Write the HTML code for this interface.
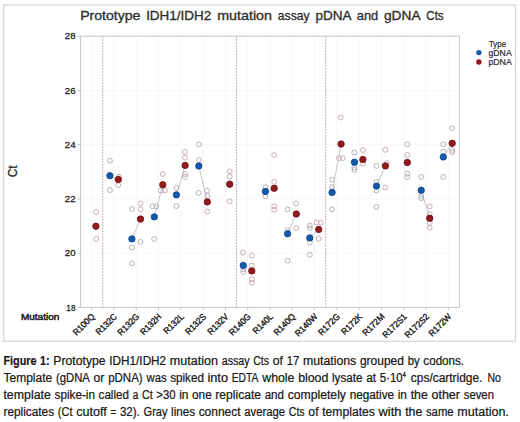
<!DOCTYPE html>
<html><head><meta charset="utf-8"><style>html,body{margin:0;padding:0;background:#fff;}body{width:520px;height:422px;overflow:hidden;}svg{display:block;font-family:"Liberation Sans",sans-serif;}</style></head><body>
<svg width="520" height="422" viewBox="0 0 520 422">
<rect x="0" y="0" width="520" height="422" fill="#fff"/>
<rect x="3.7" y="4.9" width="511.7" height="336.4" fill="none" stroke="#d4d4d4" stroke-width="1.2"/>
<path d="M80.5 90.44H459.5 M80.5 144.68H459.5 M80.5 198.92H459.5 M80.5 253.16H459.5 M91.65 36.2V307.4 M113.94 36.2V307.4 M136.24 36.2V307.4 M158.53 36.2V307.4 M180.82 36.2V307.4 M203.12 36.2V307.4 M225.41 36.2V307.4 M247.71 36.2V307.4 M270.00 36.2V307.4 M292.29 36.2V307.4 M314.59 36.2V307.4 M336.88 36.2V307.4 M359.18 36.2V307.4 M381.47 36.2V307.4 M403.76 36.2V307.4 M426.06 36.2V307.4 M448.35 36.2V307.4" stroke="#f7f7f7" stroke-width="1" fill="none"/>
<line x1="102.79" y1="36.2" x2="102.79" y2="307.4" stroke="#c4a4ae" stroke-width="1" stroke-dasharray="1.8 1.1"/>
<line x1="236.56" y1="36.2" x2="236.56" y2="307.4" stroke="#c4a4ae" stroke-width="1" stroke-dasharray="1.8 1.1"/>
<line x1="325.74" y1="36.2" x2="325.74" y2="307.4" stroke="#c4a4ae" stroke-width="1" stroke-dasharray="1.8 1.1"/>
<rect x="80.5" y="36.2" width="379.0" height="271.2" fill="none" stroke="#c8c8c8" stroke-width="1"/>
<path d="M77.5 36.20H80.5 M77.5 90.44H80.5 M77.5 144.68H80.5 M77.5 198.92H80.5 M77.5 253.16H80.5 M77.5 307.40H80.5 M91.65 307.4V310.4 M113.94 307.4V310.4 M136.24 307.4V310.4 M158.53 307.4V310.4 M180.82 307.4V310.4 M203.12 307.4V310.4 M225.41 307.4V310.4 M247.71 307.4V310.4 M270.00 307.4V310.4 M292.29 307.4V310.4 M314.59 307.4V310.4 M336.88 307.4V310.4 M359.18 307.4V310.4 M381.47 307.4V310.4 M403.76 307.4V310.4 M426.06 307.4V310.4 M448.35 307.4V310.4" stroke="#c8c8c8" stroke-width="1" fill="none"/>
<text x="75.5" y="39.30" font-size="9.6" fill="#1e1e1e" stroke="#1e1e1e" stroke-width="0.28" text-anchor="end">28</text>
<text x="75.5" y="93.54" font-size="9.6" fill="#1e1e1e" stroke="#1e1e1e" stroke-width="0.28" text-anchor="end">26</text>
<text x="75.5" y="147.78" font-size="9.6" fill="#1e1e1e" stroke="#1e1e1e" stroke-width="0.28" text-anchor="end">24</text>
<text x="75.5" y="202.02" font-size="9.6" fill="#1e1e1e" stroke="#1e1e1e" stroke-width="0.28" text-anchor="end">22</text>
<text x="75.5" y="256.26" font-size="9.6" fill="#1e1e1e" stroke="#1e1e1e" stroke-width="0.28" text-anchor="end">20</text>
<text x="75.5" y="310.50" font-size="9.6" fill="#1e1e1e" stroke="#1e1e1e" stroke-width="0.28" text-anchor="end" textLength="9.2" lengthAdjust="spacingAndGlyphs">18</text>
<text transform="translate(17.0,171.4) rotate(-90)" font-size="12.4" fill="#222" stroke="#222" stroke-width="0.3" text-anchor="middle" textLength="11.9" lengthAdjust="spacingAndGlyphs">Ct</text>
<text transform="translate(95.25,317.20) rotate(-45)" font-size="8.8" fill="#1a1a1a" stroke="#1a1a1a" stroke-width="0.38" text-anchor="end" textLength="26.49" lengthAdjust="spacingAndGlyphs">R100Q</text>
<text transform="translate(117.54,317.20) rotate(-45)" font-size="8.8" fill="#1a1a1a" stroke="#1a1a1a" stroke-width="0.38" text-anchor="end" textLength="26.02" lengthAdjust="spacingAndGlyphs">R132C</text>
<text transform="translate(139.84,317.20) rotate(-45)" font-size="8.8" fill="#1a1a1a" stroke="#1a1a1a" stroke-width="0.38" text-anchor="end" textLength="26.49" lengthAdjust="spacingAndGlyphs">R132G</text>
<text transform="translate(162.13,317.20) rotate(-45)" font-size="8.8" fill="#1a1a1a" stroke="#1a1a1a" stroke-width="0.38" text-anchor="end" textLength="26.02" lengthAdjust="spacingAndGlyphs">R132H</text>
<text transform="translate(184.42,317.20) rotate(-45)" font-size="8.8" fill="#1a1a1a" stroke="#1a1a1a" stroke-width="0.38" text-anchor="end" textLength="24.63" lengthAdjust="spacingAndGlyphs">R132L</text>
<text transform="translate(206.72,317.20) rotate(-45)" font-size="8.8" fill="#1a1a1a" stroke="#1a1a1a" stroke-width="0.38" text-anchor="end" textLength="25.56" lengthAdjust="spacingAndGlyphs">R132S</text>
<text transform="translate(229.01,317.20) rotate(-45)" font-size="8.8" fill="#1a1a1a" stroke="#1a1a1a" stroke-width="0.38" text-anchor="end" textLength="25.56" lengthAdjust="spacingAndGlyphs">R132V</text>
<text transform="translate(251.31,317.20) rotate(-45)" font-size="8.8" fill="#1a1a1a" stroke="#1a1a1a" stroke-width="0.38" text-anchor="end" textLength="26.49" lengthAdjust="spacingAndGlyphs">R140G</text>
<text transform="translate(273.60,317.20) rotate(-45)" font-size="8.8" fill="#1a1a1a" stroke="#1a1a1a" stroke-width="0.38" text-anchor="end" textLength="24.63" lengthAdjust="spacingAndGlyphs">R140L</text>
<text transform="translate(295.89,317.20) rotate(-45)" font-size="8.8" fill="#1a1a1a" stroke="#1a1a1a" stroke-width="0.38" text-anchor="end" textLength="26.49" lengthAdjust="spacingAndGlyphs">R140Q</text>
<text transform="translate(318.19,317.20) rotate(-45)" font-size="8.8" fill="#1a1a1a" stroke="#1a1a1a" stroke-width="0.38" text-anchor="end" textLength="27.88" lengthAdjust="spacingAndGlyphs">R140W</text>
<text transform="translate(340.48,317.20) rotate(-45)" font-size="8.8" fill="#1a1a1a" stroke="#1a1a1a" stroke-width="0.38" text-anchor="end" textLength="26.49" lengthAdjust="spacingAndGlyphs">R172G</text>
<text transform="translate(362.78,317.20) rotate(-45)" font-size="8.8" fill="#1a1a1a" stroke="#1a1a1a" stroke-width="0.38" text-anchor="end" textLength="25.56" lengthAdjust="spacingAndGlyphs">R172K</text>
<text transform="translate(385.07,317.20) rotate(-45)" font-size="8.8" fill="#1a1a1a" stroke="#1a1a1a" stroke-width="0.38" text-anchor="end" textLength="26.95" lengthAdjust="spacingAndGlyphs">R172M</text>
<text transform="translate(407.36,317.20) rotate(-45)" font-size="8.8" fill="#1a1a1a" stroke="#1a1a1a" stroke-width="0.38" text-anchor="end" textLength="30.21" lengthAdjust="spacingAndGlyphs">R172S1</text>
<text transform="translate(429.66,317.20) rotate(-45)" font-size="8.8" fill="#1a1a1a" stroke="#1a1a1a" stroke-width="0.38" text-anchor="end" textLength="30.21" lengthAdjust="spacingAndGlyphs">R172S2</text>
<text transform="translate(451.95,317.20) rotate(-45)" font-size="8.8" fill="#1a1a1a" stroke="#1a1a1a" stroke-width="0.38" text-anchor="end" textLength="27.88" lengthAdjust="spacingAndGlyphs">R172W</text>
<text x="20.9" y="319.8" font-size="9.2" fill="#1e1e1e" stroke="#1e1e1e" stroke-width="0.5" textLength="38.4" lengthAdjust="spacingAndGlyphs">Mutation</text>
<text x="489" y="47" font-size="8.7" fill="#2a2a2a" stroke="#2a2a2a" stroke-width="0.2" textLength="17" lengthAdjust="spacingAndGlyphs">Type</text>
<circle cx="478.9" cy="52.6" r="2.7" fill="#1259ab"/>
<circle cx="478.9" cy="62" r="2.7" fill="#941a1f"/>
<text x="488.5" y="55.6" font-size="8.7" fill="#2a2a2a" stroke="#2a2a2a" stroke-width="0.2">gDNA</text>
<text x="488.5" y="65.2" font-size="8.7" fill="#2a2a2a" stroke="#2a2a2a" stroke-width="0.2">pDNA</text>
<line x1="109.9" y1="175.7" x2="118.3" y2="179.5" stroke="#c2c2c2" stroke-width="0.9"/>
<line x1="131.9" y1="238.9" x2="140.5" y2="219.0" stroke="#c2c2c2" stroke-width="0.9"/>
<line x1="154.3" y1="216.9" x2="162.8" y2="184.7" stroke="#c2c2c2" stroke-width="0.9"/>
<line x1="176.4" y1="194.9" x2="185.1" y2="165.4" stroke="#c2c2c2" stroke-width="0.9"/>
<line x1="198.8" y1="166.0" x2="207.3" y2="201.9" stroke="#c2c2c2" stroke-width="0.9"/>
<line x1="243.3" y1="265.4" x2="251.8" y2="270.9" stroke="#c2c2c2" stroke-width="0.9"/>
<line x1="265.4" y1="191.5" x2="274.2" y2="188.3" stroke="#c2c2c2" stroke-width="0.9"/>
<line x1="287.6" y1="233.8" x2="296.3" y2="214.0" stroke="#c2c2c2" stroke-width="0.9"/>
<line x1="309.8" y1="237.9" x2="318.7" y2="229.4" stroke="#c2c2c2" stroke-width="0.9"/>
<line x1="332.1" y1="192.4" x2="341.1" y2="144.0" stroke="#c2c2c2" stroke-width="0.9"/>
<line x1="354.4" y1="162.2" x2="362.9" y2="159.5" stroke="#c2c2c2" stroke-width="0.9"/>
<line x1="376.5" y1="186.1" x2="385.4" y2="165.9" stroke="#c2c2c2" stroke-width="0.9"/>
<line x1="421.2" y1="190.3" x2="429.7" y2="218.3" stroke="#c2c2c2" stroke-width="0.9"/>
<line x1="443.3" y1="157.0" x2="452.2" y2="143.3" stroke="#c2c2c2" stroke-width="0.9"/>
<g fill="none" stroke="#acacb0" stroke-width="0.9"><circle cx="109.9" cy="160.7" r="2.45"/><circle cx="109.9" cy="190.1" r="2.45"/><circle cx="131.9" cy="209.0" r="2.45"/><circle cx="131.9" cy="247.5" r="2.45"/><circle cx="131.9" cy="263.3" r="2.45"/><circle cx="152.5" cy="206.3" r="2.45"/><circle cx="156.3" cy="206.3" r="2.45"/><circle cx="154.2" cy="238.9" r="2.45"/><circle cx="176.4" cy="188.0" r="2.45"/><circle cx="176.4" cy="206.1" r="2.45"/><circle cx="198.9" cy="144.5" r="2.45"/><circle cx="198.9" cy="160.0" r="2.45"/><circle cx="198.7" cy="192.9" r="2.45"/><circle cx="243.0" cy="252.6" r="2.45"/><circle cx="243.3" cy="269.3" r="2.45"/><circle cx="243.3" cy="272.0" r="2.45"/><circle cx="265.4" cy="187.3" r="2.45"/><circle cx="265.4" cy="196.3" r="2.45"/><circle cx="287.6" cy="209.4" r="2.45"/><circle cx="287.6" cy="230.2" r="2.45"/><circle cx="287.6" cy="260.7" r="2.45"/><circle cx="309.8" cy="225.5" r="2.45"/><circle cx="309.8" cy="228.1" r="2.45"/><circle cx="309.8" cy="242.5" r="2.45"/><circle cx="309.8" cy="254.8" r="2.45"/><circle cx="332.1" cy="179.6" r="2.45"/><circle cx="332.1" cy="187.1" r="2.45"/><circle cx="332.1" cy="209.4" r="2.45"/><circle cx="354.4" cy="152.6" r="2.45"/><circle cx="354.4" cy="167.5" r="2.45"/><circle cx="354.4" cy="169.9" r="2.45"/><circle cx="376.5" cy="165.9" r="2.45"/><circle cx="376.5" cy="181.9" r="2.45"/><circle cx="376.5" cy="190.4" r="2.45"/><circle cx="376.5" cy="206.9" r="2.45"/><circle cx="421.2" cy="176.9" r="2.45"/><circle cx="421.2" cy="196.1" r="2.45"/><circle cx="421.2" cy="198.3" r="2.45"/><circle cx="443.3" cy="144.2" r="2.45"/><circle cx="443.3" cy="151.7" r="2.45"/><circle cx="443.2" cy="176.9" r="2.45"/></g>
<g fill="none" stroke="#bea6ae" stroke-width="0.9"><circle cx="96.1" cy="212.0" r="2.45"/><circle cx="96.2" cy="238.9" r="2.45"/><circle cx="119.0" cy="176.8" r="2.45"/><circle cx="118.2" cy="185.1" r="2.45"/><circle cx="140.5" cy="203.5" r="2.45"/><circle cx="140.5" cy="209.4" r="2.45"/><circle cx="140.5" cy="241.9" r="2.45"/><circle cx="162.8" cy="174.0" r="2.45"/><circle cx="160.7" cy="190.5" r="2.45"/><circle cx="164.9" cy="190.5" r="2.45"/><circle cx="185.0" cy="151.9" r="2.45"/><circle cx="185.0" cy="157.7" r="2.45"/><circle cx="185.0" cy="174.0" r="2.45"/><circle cx="185.0" cy="176.8" r="2.45"/><circle cx="207.1" cy="190.6" r="2.45"/><circle cx="207.3" cy="196.0" r="2.45"/><circle cx="207.3" cy="211.5" r="2.45"/><circle cx="229.7" cy="171.4" r="2.45"/><circle cx="229.7" cy="176.7" r="2.45"/><circle cx="229.6" cy="201.3" r="2.45"/><circle cx="251.8" cy="255.5" r="2.45"/><circle cx="251.8" cy="265.6" r="2.45"/><circle cx="251.8" cy="279.4" r="2.45"/><circle cx="251.8" cy="282.6" r="2.45"/><circle cx="274.2" cy="155.1" r="2.45"/><circle cx="274.2" cy="181.9" r="2.45"/><circle cx="274.2" cy="206.4" r="2.45"/><circle cx="274.2" cy="209.6" r="2.45"/><circle cx="296.3" cy="203.5" r="2.45"/><circle cx="296.3" cy="228.1" r="2.45"/><circle cx="316.5" cy="222.6" r="2.45"/><circle cx="320.8" cy="222.6" r="2.45"/><circle cx="318.7" cy="238.8" r="2.45"/><circle cx="340.7" cy="117.5" r="2.45"/><circle cx="339.1" cy="158.1" r="2.45"/><circle cx="342.8" cy="158.1" r="2.45"/><circle cx="362.9" cy="150.1" r="2.45"/><circle cx="362.9" cy="163.7" r="2.45"/><circle cx="385.3" cy="149.8" r="2.45"/><circle cx="386.7" cy="163.2" r="2.45"/><circle cx="385.1" cy="187.5" r="2.45"/><circle cx="407.3" cy="144.4" r="2.45"/><circle cx="407.3" cy="155.0" r="2.45"/><circle cx="407.3" cy="173.6" r="2.45"/><circle cx="407.3" cy="177.1" r="2.45"/><circle cx="429.7" cy="206.4" r="2.45"/><circle cx="429.7" cy="213.9" r="2.45"/><circle cx="429.7" cy="223.0" r="2.45"/><circle cx="429.7" cy="227.7" r="2.45"/><circle cx="452.2" cy="128.2" r="2.45"/><circle cx="452.2" cy="150.0" r="2.45"/><circle cx="452.2" cy="152.2" r="2.45"/></g>
<g fill="#1259ab" stroke="#0c4690" stroke-width="0.8"><circle cx="109.9" cy="175.7" r="3.2"/><circle cx="131.9" cy="238.9" r="3.2"/><circle cx="154.3" cy="216.9" r="3.2"/><circle cx="176.4" cy="194.9" r="3.2"/><circle cx="198.8" cy="166.0" r="3.2"/><circle cx="243.3" cy="265.4" r="3.2"/><circle cx="265.4" cy="191.5" r="3.2"/><circle cx="287.6" cy="233.8" r="3.2"/><circle cx="309.8" cy="237.9" r="3.2"/><circle cx="332.1" cy="192.4" r="3.2"/><circle cx="354.4" cy="162.2" r="3.2"/><circle cx="376.5" cy="186.1" r="3.2"/><circle cx="421.2" cy="190.3" r="3.2"/><circle cx="443.3" cy="157.0" r="3.2"/></g>
<g fill="#941a1f" stroke="#6e0c10" stroke-width="0.8"><circle cx="95.9" cy="226.2" r="3.2"/><circle cx="118.3" cy="179.5" r="3.2"/><circle cx="140.5" cy="219.0" r="3.2"/><circle cx="162.8" cy="184.7" r="3.2"/><circle cx="185.1" cy="165.4" r="3.2"/><circle cx="207.3" cy="201.9" r="3.2"/><circle cx="229.7" cy="184.2" r="3.2"/><circle cx="251.8" cy="270.9" r="3.2"/><circle cx="274.2" cy="188.3" r="3.2"/><circle cx="296.3" cy="214.0" r="3.2"/><circle cx="318.7" cy="229.4" r="3.2"/><circle cx="341.1" cy="144.0" r="3.2"/><circle cx="362.9" cy="159.5" r="3.2"/><circle cx="385.4" cy="165.9" r="3.2"/><circle cx="407.3" cy="162.5" r="3.2"/><circle cx="429.7" cy="218.3" r="3.2"/><circle cx="452.2" cy="143.3" r="3.2"/></g>
<g fill="#161616" stroke="#161616" stroke-width="0.22">
<text x="3.45" y="365.0" font-size="12.3" font-weight="bold" textLength="33.01" lengthAdjust="spacingAndGlyphs">Figure</text>
<text x="40.05" y="365.0" font-size="12.3" font-weight="bold" textLength="9.59" lengthAdjust="spacingAndGlyphs">1:</text>
<text x="53.35" y="365.0" font-size="12.3" textLength="52.30" lengthAdjust="spacingAndGlyphs">Prototype</text>
<text x="109.35" y="365.0" font-size="12.3" textLength="56.79" lengthAdjust="spacingAndGlyphs">IDH1/IDH2</text>
<text x="169.85" y="365.0" font-size="12.3" textLength="48.21" lengthAdjust="spacingAndGlyphs">mutation</text>
<text x="221.75" y="365.0" font-size="12.3" textLength="27.82" lengthAdjust="spacingAndGlyphs">assay</text>
<text x="253.25" y="365.0" font-size="12.3" textLength="15.80" lengthAdjust="spacingAndGlyphs">Cts</text>
<text x="272.75" y="365.0" font-size="12.3" textLength="10.19" lengthAdjust="spacingAndGlyphs">of</text>
<text x="286.65" y="365.0" font-size="12.3" textLength="12.63" lengthAdjust="spacingAndGlyphs">17</text>
<text x="302.95" y="365.0" font-size="12.3" textLength="53.31" lengthAdjust="spacingAndGlyphs">mutations</text>
<text x="359.95" y="365.0" font-size="12.3" textLength="44.00" lengthAdjust="spacingAndGlyphs">grouped</text>
<text x="407.65" y="365.0" font-size="12.3" textLength="12.01" lengthAdjust="spacingAndGlyphs">by</text>
<text x="423.35" y="365.0" font-size="12.3" textLength="40.77" lengthAdjust="spacingAndGlyphs">codons.</text>
<text x="3.47" y="382.0" font-size="12.3" textLength="48.74" lengthAdjust="spacingAndGlyphs">Template</text>
<text x="55.96" y="382.0" font-size="12.3" textLength="33.91" lengthAdjust="spacingAndGlyphs">(gDNA</text>
<text x="93.54" y="382.0" font-size="12.3" textLength="10.88" lengthAdjust="spacingAndGlyphs">or</text>
<text x="108.15" y="382.0" font-size="12.3" textLength="34.57" lengthAdjust="spacingAndGlyphs">pDNA)</text>
<text x="146.49" y="382.0" font-size="12.3" textLength="20.08" lengthAdjust="spacingAndGlyphs">was</text>
<text x="170.21" y="382.0" font-size="12.3" textLength="33.66" lengthAdjust="spacingAndGlyphs">spiked</text>
<text x="207.49" y="382.0" font-size="12.3" textLength="20.49" lengthAdjust="spacingAndGlyphs">into</text>
<text x="231.67" y="382.0" font-size="12.3" textLength="26.78" lengthAdjust="spacingAndGlyphs">EDTA</text>
<text x="262.26" y="382.0" font-size="12.3" textLength="32.16" lengthAdjust="spacingAndGlyphs">whole</text>
<text x="298.17" y="382.0" font-size="12.3" textLength="30.15" lengthAdjust="spacingAndGlyphs">blood</text>
<text x="332.02" y="382.0" font-size="12.3" textLength="30.46" lengthAdjust="spacingAndGlyphs">lysate</text>
<text x="366.17" y="382.0" font-size="12.3" textLength="9.97" lengthAdjust="spacingAndGlyphs">at</text>
<text x="379.77" y="382.0" font-size="12.3" textLength="22.79" lengthAdjust="spacingAndGlyphs">5·10</text>
<text x="3.45" y="398.8" font-size="12.3" textLength="47.41" lengthAdjust="spacingAndGlyphs">template</text>
<text x="54.55" y="398.8" font-size="12.3" textLength="40.41" lengthAdjust="spacingAndGlyphs">spike-in</text>
<text x="98.55" y="398.8" font-size="12.3" textLength="30.48" lengthAdjust="spacingAndGlyphs">called</text>
<text x="132.75" y="398.8" font-size="12.3" textLength="5.56" lengthAdjust="spacingAndGlyphs">a</text>
<text x="142.05" y="398.8" font-size="12.3" textLength="10.70" lengthAdjust="spacingAndGlyphs">Ct</text>
<text x="156.35" y="398.8" font-size="12.3" textLength="19.22" lengthAdjust="spacingAndGlyphs">&gt;30</text>
<text x="179.15" y="398.8" font-size="12.3" textLength="9.28" lengthAdjust="spacingAndGlyphs">in</text>
<text x="192.05" y="398.8" font-size="12.3" textLength="19.68" lengthAdjust="spacingAndGlyphs">one</text>
<text x="215.35" y="398.8" font-size="12.3" textLength="45.60" lengthAdjust="spacingAndGlyphs">replicate</text>
<text x="264.65" y="398.8" font-size="12.3" textLength="19.38" lengthAdjust="spacingAndGlyphs">and</text>
<text x="287.65" y="398.8" font-size="12.3" textLength="58.30" lengthAdjust="spacingAndGlyphs">completely</text>
<text x="349.65" y="398.8" font-size="12.3" textLength="44.51" lengthAdjust="spacingAndGlyphs">negative</text>
<text x="397.75" y="398.8" font-size="12.3" textLength="9.18" lengthAdjust="spacingAndGlyphs">in</text>
<text x="410.65" y="398.8" font-size="12.3" textLength="17.10" lengthAdjust="spacingAndGlyphs">the</text>
<text x="431.45" y="398.8" font-size="12.3" textLength="28.59" lengthAdjust="spacingAndGlyphs">other</text>
<text x="463.75" y="398.8" font-size="12.3" textLength="30.18" lengthAdjust="spacingAndGlyphs">seven</text>
<text x="3.45" y="415.8" font-size="12.3" textLength="50.70" lengthAdjust="spacingAndGlyphs">replicates</text>
<text x="57.85" y="415.8" font-size="12.3" textLength="14.58" lengthAdjust="spacingAndGlyphs">(Ct</text>
<text x="76.15" y="415.8" font-size="12.3" textLength="30.57" lengthAdjust="spacingAndGlyphs">cutoff</text>
<text x="110.45" y="415.8" font-size="12.3" textLength="5.79" lengthAdjust="spacingAndGlyphs">=</text>
<text x="119.95" y="415.8" font-size="12.3" textLength="19.88" lengthAdjust="spacingAndGlyphs">32).</text>
<text x="143.55" y="415.8" font-size="12.3" textLength="23.92" lengthAdjust="spacingAndGlyphs">Gray</text>
<text x="171.05" y="415.8" font-size="12.3" textLength="23.92" lengthAdjust="spacingAndGlyphs">lines</text>
<text x="198.65" y="415.8" font-size="12.3" textLength="41.87" lengthAdjust="spacingAndGlyphs">connect</text>
<text x="244.25" y="415.8" font-size="12.3" textLength="40.89" lengthAdjust="spacingAndGlyphs">average</text>
<text x="288.85" y="415.8" font-size="12.3" textLength="15.80" lengthAdjust="spacingAndGlyphs">Cts</text>
<text x="308.35" y="415.8" font-size="12.3" textLength="10.19" lengthAdjust="spacingAndGlyphs">of</text>
<text x="322.25" y="415.8" font-size="12.3" textLength="52.61" lengthAdjust="spacingAndGlyphs">templates</text>
<text x="378.51" y="415.8" font-size="12.3" textLength="22.91" lengthAdjust="spacingAndGlyphs">with</text>
<text x="405.15" y="415.8" font-size="12.3" textLength="17.10" lengthAdjust="spacingAndGlyphs">the</text>
<text x="425.95" y="415.8" font-size="12.3" textLength="27.70" lengthAdjust="spacingAndGlyphs">same</text>
<text x="457.35" y="415.8" font-size="12.3" textLength="51.48" lengthAdjust="spacingAndGlyphs">mutation.</text>
<text x="410.85" y="382.0" font-size="12.3" textLength="71.57" lengthAdjust="spacingAndGlyphs">cps/cartridge.</text>
<text x="487.45" y="382.0" font-size="12.3" textLength="13.38" lengthAdjust="spacingAndGlyphs">No</text>
<text x="402.65" y="377.4" font-size="7.6" stroke-width="0.35" textLength="3.01" lengthAdjust="spacingAndGlyphs">4</text>
</g>
<g fill="#2e2e2e" stroke="#2e2e2e" stroke-width="0.32">
<text x="80.15" y="20.1" font-size="12.7" textLength="60.21" lengthAdjust="spacingAndGlyphs">Prototype</text>
<text x="146.15" y="20.1" font-size="12.7" textLength="64.99" lengthAdjust="spacingAndGlyphs">IDH1/IDH2</text>
<text x="217.15" y="20.1" font-size="12.7" textLength="54.91" lengthAdjust="spacingAndGlyphs">mutation</text>
<text x="277.85" y="20.1" font-size="12.7" textLength="31.83" lengthAdjust="spacingAndGlyphs">assay</text>
<text x="315.45" y="20.1" font-size="12.7" textLength="36.17" lengthAdjust="spacingAndGlyphs">pDNA</text>
<text x="356.75" y="20.1" font-size="12.7" textLength="21.48" lengthAdjust="spacingAndGlyphs">and</text>
<text x="383.95" y="20.1" font-size="12.7" textLength="36.67" lengthAdjust="spacingAndGlyphs">gDNA</text>
<text x="426.25" y="20.1" font-size="12.7" textLength="17.40" lengthAdjust="spacingAndGlyphs">Cts</text>
</g>
</svg></body></html>
